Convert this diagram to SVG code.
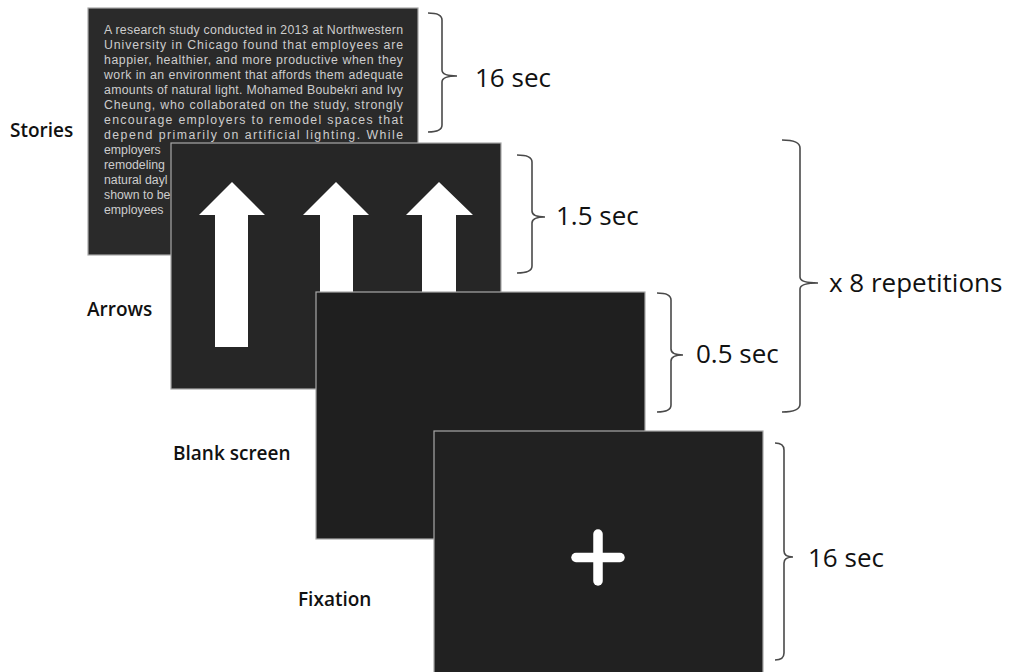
<svg xmlns="http://www.w3.org/2000/svg" width="1014" height="672" viewBox="0 0 1014 672">
<style>
.panel{stroke:#a8a8a8;stroke-width:1.2}
.story{font-family:"Liberation Sans",Arial,sans-serif;font-size:12.3px;fill:#cdcdcd}
.lbl{font-family:"Open Sans","Noto Sans",sans-serif;font-size:19px;font-weight:600;fill:#111}
.dur{font-family:"Open Sans","Noto Sans",sans-serif;font-size:26px;fill:#111}
.brace{fill:none;stroke:#4a4a4a;stroke-width:1.6}
.white{fill:#ffffff}
</style>
<rect width="1014" height="672" fill="#ffffff"/>

<g id="stories">
<rect class="panel" x="88" y="8" width="330" height="247" fill="#2a2a2a"/>
<text class="story" x="104" y="34" textLength="299" lengthAdjust="spacing">A research study conducted in 2013 at Northwestern</text>
<text class="story" x="104" y="49" textLength="299" lengthAdjust="spacing">University in Chicago found that employees are</text>
<text class="story" x="104" y="64" textLength="299" lengthAdjust="spacing">happier, healthier, and more productive when they</text>
<text class="story" x="104" y="79" textLength="299" lengthAdjust="spacing">work in an environment that affords them adequate</text>
<text class="story" x="104" y="94" textLength="299" lengthAdjust="spacing">amounts of natural light. Mohamed Boubekri and Ivy</text>
<text class="story" x="104" y="109" textLength="299" lengthAdjust="spacing">Cheung, who collaborated on the study, strongly</text>
<text class="story" x="104" y="124" textLength="299" lengthAdjust="spacing">encourage employers to remodel spaces that</text>
<text class="story" x="104" y="139" textLength="299" lengthAdjust="spacing">depend primarily on artificial lighting. While</text>
<text class="story" x="104" y="154">employers</text>
<text class="story" x="104" y="169">remodeling</text>
<text class="story" x="104" y="184">natural dayl</text>
<text class="story" x="104" y="199">shown to be</text>
<text class="story" x="104" y="214">employees</text>
<text class="lbl" x="10" y="137">Stories</text>
</g>

<g id="arrows">
<rect class="panel" x="171" y="143" width="330" height="246" fill="#262626"/>
<polygon class="white" points="232,182 265,215 248,215 248,347 215,347 215,215 199,215"/>
<polygon class="white" points="336,182 369,215 353,215 353,347 320,347 320,215 303,215"/>
<polygon class="white" points="439,182 473,215 456,215 456,347 422,347 422,215 406,215"/>
<text class="lbl" x="87" y="316">Arrows</text>
</g>

<g id="blank">
<rect class="panel" x="316" y="292" width="329" height="247" fill="#1f1f1f"/>
<text class="lbl" x="173" y="460">Blank screen</text>
</g>

<g id="fixation">
<rect class="panel" x="434" y="431" width="329" height="250" fill="#212121"/>
<line x1="598" y1="534" x2="598" y2="581" stroke="#ffffff" stroke-width="9.5" stroke-linecap="round"/>
<line x1="576" y1="557.5" x2="620" y2="557.5" stroke="#ffffff" stroke-width="9.5" stroke-linecap="round"/>
<text class="lbl" x="298" y="606">Fixation</text>
</g>

<g id="connectors">
<path class="brace" d="M428,13 Q442,13 442,20 L442,70 Q442,76 457,76 Q442,76 442,82 L442,125 Q442,132 428,132"/>
<path class="brace" d="M517,155 Q532,155 532,162 L532,211 Q532,217 545,217 Q532,217 532,223 L532,266 Q532,273 517,273"/>
<path class="brace" d="M657,293 Q671,293 671,300 L671,349 Q671,355 683,355 Q671,355 671,361 L671,405 Q671,412 657,412"/>
<path class="brace" d="M782,140 Q800,140 800,148 L800,277 Q800,283 818,283 Q800,283 800,289 L800,404 Q800,412 782,412"/>
<path class="brace" d="M775,443 Q784,443 784,450 L784,551 Q784,557 793,557 Q784,557 784,563 L784,653 Q784,660 775,660"/>
</g>

<g id="durations">
<text class="dur" x="475" y="87">16 sec</text>
<text class="dur" x="556" y="225">1.5 sec</text>
<text class="dur" x="696" y="363">0.5 sec</text>
<text class="dur" x="829" y="292">x 8 repetitions</text>
<text class="dur" x="808" y="567">16 sec</text>
</g>
</svg>
